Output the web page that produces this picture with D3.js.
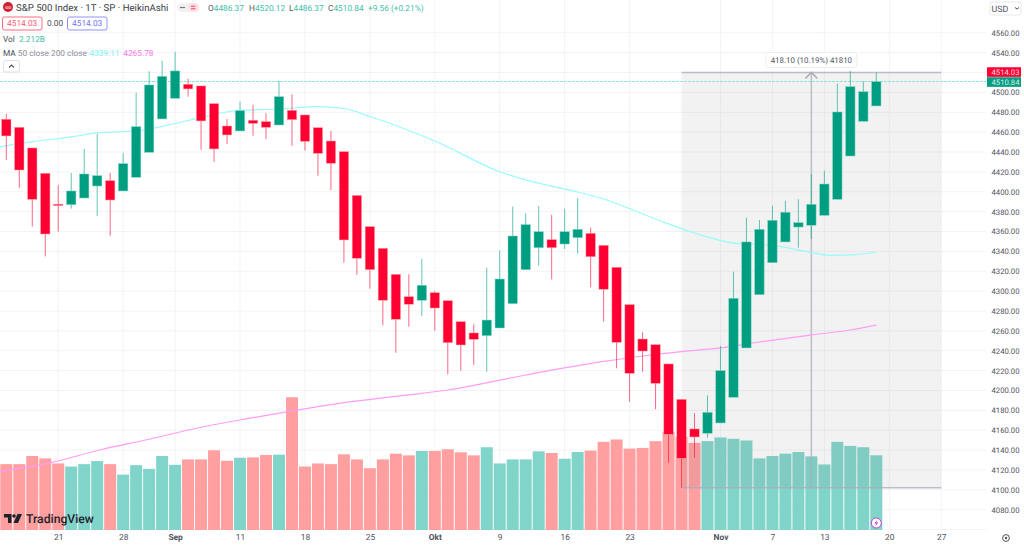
<!DOCTYPE html>
<html lang="de">

<head>
  <meta charset="UTF-8" />
  <title>S&amp;P 500 Index - HeikinAshi</title>
  <script src="https://d3js.org/d3.v7.min.js"></script>
  <style>
    body {
      margin: 0;
      background-color: #fff;
      overflow: hidden;
    }

    svg {
      display: block;
      font-family: Roboto, "Liberation Sans", sans-serif;
      text-rendering: geometricPrecision;
    }

    .grid line {
      stroke: #f3f3f5;
      stroke-width: 1px;
    }

    .axis path,
    .axis line {
      display: none;
    }

    .axis text {
      fill: #50535e;
      font-size: 7.7px;
      font-family: Roboto, "Liberation Sans", sans-serif;
    }

    .legend {
      font-size: 8.3px;
      fill: #50535e;
    }
  </style>
</head>

<body>
  <svg id="chart" width="1024" height="545"></svg>

  <script>
    // heikin ashi candles (index 0 = 15 Aug, 1T bars)
    const opens = [4473.0, 4464.9, 4444.1, 4418.6, 4387.5, 4387.0, 4393.7, 4405.8, 4411.2, 4400.8, 4414.6, 4439.7, 4473.3, 4494.1, 4508.2, 4506.5, 4488.7, 4466.2, 4461.2, 4472.0, 4470.6, 4467.2, 4482.0, 4477.3, 4464.5, 4451.1, 4440.4, 4396.3, 4364.9, 4343.1, 4316.9, 4294.4, 4290.8, 4298.4, 4290.4, 4269.3, 4257.9, 4255.2, 4262.9, 4287.4, 4321.6, 4343.7, 4351.8, 4347.4, 4353.8, 4358.2, 4346.1, 4324.0, 4286.4, 4251.8, 4246.1, 4226.7, 4191.1, 4161.3, 4156.9, 4167.3, 4193.2, 4242.8, 4296.4, 4328.6, 4349.5, 4364.5, 4366.3, 4376.3, 4392.4, 4436.0, 4470.9, 4486.37];
    const closes = [4456.2, 4421.9, 4392.4, 4357.5, 4386.1, 4400.8, 4417.9, 4416.2, 4391.7, 4428.3, 4465.5, 4507.5, 4516.2, 4521.6, 4503.5, 4471.3, 4443.1, 4457.2, 4481.6, 4468.9, 4464.9, 4495.7, 4472.6, 4450.8, 4438.7, 4428.7, 4351.5, 4333.1, 4321.6, 4290.8, 4271.7, 4286.8, 4305.9, 4283.0, 4248.1, 4245.8, 4251.5, 4270.9, 4312.2, 4355.5, 4366.9, 4359.8, 4343.7, 4359.8, 4362.2, 4334.6, 4301.9, 4248.5, 4217.3, 4239.7, 4207.2, 4155.9, 4131.8, 4153.2, 4178.0, 4219.9, 4292.8, 4349.5, 4362.2, 4371.3, 4379.4, 4368.9, 4387.4, 4407.8, 4480.3, 4505.8, 4500.7, 4510.84];
    const highs = [4478.3, 4464.9, 4444.1, 4418.6, 4406.8, 4418.9, 4443.1, 4458.2, 4418.9, 4439.3, 4499.7, 4521.3, 4531.9, 4541.0, 4513.8, 4506.5, 4488.7, 4473.3, 4490.7, 4487.4, 4479.0, 4511.5, 4498.1, 4477.3, 4464.5, 4461.2, 4440.4, 4396.3, 4364.9, 4343.1, 4316.9, 4316.9, 4332.4, 4300.1, 4290.4, 4269.3, 4266.6, 4323.6, 4341.1, 4385.0, 4378.4, 4385.7, 4376.9, 4383.0, 4393.4, 4363.9, 4346.1, 4324.0, 4286.4, 4258.6, 4246.1, 4226.7, 4191.1, 4177.1, 4195.2, 4244.8, 4319.6, 4373.9, 4371.6, 4386.0, 4391.0, 4392.4, 4417.9, 4421.2, 4508.8, 4521.6, 4511.2, 4520.12];
    const lows = [4432.0, 4403.8, 4364.9, 4335.0, 4359.8, 4383.0, 4393.7, 4375.6, 4355.8, 4400.8, 4414.6, 4439.7, 4473.3, 4494.1, 4495.7, 4442.1, 4430.3, 4448.1, 4461.2, 4456.4, 4453.1, 4467.2, 4446.4, 4441.4, 4416.2, 4401.8, 4328.6, 4316.3, 4302.5, 4265.6, 4238.0, 4264.2, 4275.0, 4260.2, 4216.3, 4219.9, 4225.7, 4218.9, 4262.9, 4287.4, 4321.6, 4325.6, 4311.9, 4342.4, 4337.7, 4303.9, 4269.3, 4222.3, 4188.7, 4218.9, 4181.1, 4127.3, 4101.9, 4132.4, 4152.5, 4167.3, 4193.2, 4242.8, 4296.4, 4328.6, 4349.5, 4343.7, 4352.5, 4376.3, 4392.4, 4436.0, 4470.9, 4486.37];

    // volume in billions
    const volumes = [1.95, 1.95, 2.19, 2.12, 1.97, 1.88, 1.95, 2.04, 1.95, 1.64, 1.92, 1.81, 2.19, 1.93, 2.09, 2.09, 2.36, 2.05, 2.14, 2.15, 2.22, 2.23, 3.93, 1.88, 1.97, 1.95, 2.24, 2.09, 1.83, 2.09, 2.26, 2.21, 2.34, 2.34, 2.39, 2.30, 2.21, 2.45, 1.97, 2.09, 2.09, 2.33, 2.28, 2.11, 2.31, 2.35, 2.61, 2.68, 2.41, 2.43, 2.63, 2.91, 2.76, 2.58, 2.63, 2.74, 2.70, 2.65, 2.12, 2.19, 2.26, 2.31, 2.18, 1.94, 2.61, 2.49, 2.45, 2.212];

    // moving averages, read at a few bars along each curve
    const ma50Bars = [-0.5, 2, 5, 7, 10, 12.5, 15, 17.5, 21, 24, 26, 28, 33, 38, 40, 44, 46, 50, 53, 56, 59, 62, 63.5, 65, 67];
    const ma50Values = [4445.1, 4450.4, 4455.2, 4459.2, 4461.2, 4467.2, 4474.8, 4481.3, 4483.3, 4485.6, 4483.8, 4475.8, 4451.1, 4420.2, 4411.9, 4399.8, 4392.7, 4372.6, 4358.5, 4348.4, 4346.0, 4338.9, 4335.9, 4336.4, 4339.11];
    const ma200Bars = [-0.5, 3.4, 7.2, 11, 15, 19, 22, 26, 31, 34, 40, 46, 49, 52, 55, 58, 62, 65, 67];
    const ma200Values = [4118.3, 4127.3, 4140.1, 4150.9, 4163.0, 4172.6, 4179.4, 4187.7, 4195.5, 4200.5, 4215.6, 4229.2, 4234.7, 4239.1, 4242.8, 4248.8, 4255.9, 4260.9, 4265.78];

    // axes
    const priceTicks = d3.range(4080, 4561, 20);
    const dateBars = [4, 9, 13, 18, 23, 28, 33, 38, 43, 48, 55, 59, 63, 68, 72];
    const dateLabels = ["21", "28", "Sep", "11", "18", "25", "Okt", "9", "16", "23", "Nov", "7", "13", "20", "27"];
    const monthLabels = ["Sep", "Okt", "Nov"];

    // measure tool
    const measureStartBar = 52;
    const measureEndBar = 72;
    const measureLow = 4102.02;
    const measureHigh = 4520.12;
    const measureText = "418.10 (10.19%) 41810";

    const lastClose = 4510.84;
    const lastPrice = 4514.03;

    const upColor = "#009e80";
    const downColor = "#ff0033";
    const upVolColor = "#80d4ca";
    const downVolColor = "#ff9fa0";
    const plotRight = 986;
    const plotBottom = 530;

    const svg = d3.select("#chart");

    const x = d3.scaleLinear().domain([0, 67]).range([6.3, 876.3]);
    const y = d3.scaleLinear().domain([4080, 4560]).range([509.7, 32.8]);
    const yVol = d3.scaleLinear().domain([0, 4]).range([plotBottom, plotBottom - 135.1]);

    const bars = d3.range(opens.length);
    const bodyW = 9.4;
    const volW = 12;

    // grid
    const grid = svg.append("g").attr("class", "grid");
    grid.selectAll("line.h")
      .data(priceTicks.concat([4060]))
      .join("line")
      .attr("class", "h")
      .attr("x1", 0)
      .attr("x2", plotRight)
      .attr("y1", (d) => y(d))
      .attr("y2", (d) => y(d));
    grid.selectAll("line.v")
      .data(dateBars)
      .join("line")
      .attr("class", "v")
      .attr("x1", (d) => x(d))
      .attr("x2", (d) => x(d))
      .attr("y1", 0)
      .attr("y2", plotBottom);

    // volume
    svg.append("g")
      .selectAll("rect")
      .data(bars)
      .join("rect")
      .attr("x", (i) => x(i) - volW / 2)
      .attr("width", volW)
      .attr("y", (i) => yVol(volumes[i]))
      .attr("height", (i) => plotBottom - yVol(volumes[i]))
      .attr("fill", (i) => (closes[i] >= opens[i] ? upVolColor : downVolColor));

    // measure tool, goes over the volume but under the candles
    const mx0 = x(measureStartBar);
    const mx1 = x(measureEndBar);
    const mxMid = (mx0 + mx1) / 2;
    const measure = svg.append("g");
    measure.append("rect")
      .attr("x", mx0)
      .attr("y", y(measureHigh))
      .attr("width", mx1 - mx0)
      .attr("height", y(measureLow) - y(measureHigh))
      .attr("fill", "#808080")
      .attr("fill-opacity", 0.1);
    measure.selectAll("line.edge")
      .data([measureHigh, measureLow])
      .join("line")
      .attr("class", "edge")
      .attr("x1", mx0)
      .attr("x2", mx1)
      .attr("y1", (d) => y(d))
      .attr("y2", (d) => y(d))
      .attr("stroke", "#a9acb8")
      .attr("stroke-opacity", 0.75)
      .attr("stroke-width", 1.5);
    measure.append("line")
      .attr("x1", mxMid)
      .attr("x2", mxMid)
      .attr("y1", y(measureLow))
      .attr("y2", y(measureHigh))
      .attr("stroke", "#a9acb8")
      .attr("stroke-opacity", 0.75)
      .attr("stroke-width", 1.5);
    measure.append("path")
      .attr("d", `M${mxMid - 6},${y(measureHigh) + 6}L${mxMid},${y(measureHigh)}L${mxMid + 6},${y(measureHigh) + 6}`)
      .attr("fill", "none")
      .attr("stroke", "#a9acb8")
      .attr("stroke-width", 1.5);

    // last price line
    svg.append("line")
      .attr("x1", 0)
      .attr("x2", plotRight)
      .attr("y1", y(lastClose))
      .attr("y2", y(lastClose))
      .attr("stroke", "#8fe6d8")
      .attr("stroke-width", 1)
      .attr("shape-rendering", "crispEdges")
      .attr("stroke-dasharray", "3 1");

    // moving averages
    const maLine = d3.line()
      .x((d) => x(d[0]))
      .y((d) => y(d[1]))
      .curve(d3.curveMonotoneX);
    svg.append("path")
      .attr("d", maLine(d3.zip(ma50Bars, ma50Values)))
      .attr("fill", "none")
      .attr("stroke", "#99fbfb")
      .attr("stroke-width", 1.2);
    svg.append("path")
      .attr("d", maLine(d3.zip(ma200Bars, ma200Values)))
      .attr("fill", "none")
      .attr("stroke", "#ff9cf5")
      .attr("stroke-width", 1.2);

    // candles
    const candles = svg.append("g");
    candles.selectAll("line")
      .data(bars)
      .join("line")
      .attr("x1", (i) => x(i))
      .attr("x2", (i) => x(i))
      .attr("y1", (i) => y(highs[i]))
      .attr("y2", (i) => y(lows[i]))
      .attr("stroke", (i) => (closes[i] >= opens[i] ? upColor : downColor))
      .attr("stroke-opacity", 0.6)
      .attr("stroke-width", 1);
    candles.selectAll("rect")
      .data(bars)
      .join("rect")
      .attr("x", (i) => x(i) - bodyW / 2)
      .attr("width", bodyW)
      .attr("y", (i) => y(Math.max(opens[i], closes[i])))
      .attr("height", (i) => Math.abs(y(opens[i]) - y(closes[i])))
      .attr("fill", (i) => (closes[i] >= opens[i] ? upColor : downColor))
      .attr("stroke", (i) => (closes[i] >= opens[i] ? upVolColor : downVolColor))
      .attr("stroke-width", 0.5);

    // measure label
    const labelW = 91;
    const labelG = svg.append("g");
    labelG.append("rect")
      .attr("x", mxMid - labelW / 2)
      .attr("y", 52.5)
      .attr("width", labelW)
      .attr("height", 15)
      .attr("rx", 2.5)
      .attr("fill", "#fff")
      .attr("stroke", "#eeeef1")
      .attr("stroke-width", 1);
    labelG.append("text")
      .attr("x", mxMid)
      .attr("y", 63)
      .attr("text-anchor", "middle")
      .attr("font-size", 7.9)
      .attr("fill", "#50535e")
      .text(measureText);

    // axes
    const priceAxis = d3.axisRight(y)
      .tickValues(priceTicks)
      .tickSize(0)
      .tickPadding(0)
      .tickFormat(d3.format(".2f"));
    svg.append("g")
      .attr("class", "axis")
      .attr("transform", "translate(991.5,0)")
      .call(priceAxis);

    const dateAxis = d3.axisBottom(x)
      .tickValues(dateBars)
      .tickSize(0)
      .tickPadding(0)
      .tickFormat((d, i) => dateLabels[i]);
    const dateG = svg.append("g")
      .attr("class", "axis")
      .attr("transform", "translate(0,534.5)")
      .call(dateAxis);
    dateG.selectAll("text")
      .attr("font-weight", (d, i) => (monthLabels.includes(dateLabels[i]) ? 700 : 400))
      .style("font-size", "8.4px");

    // price tags on the axis, the last price tag is pushed up to clear the close tag
    const tags = svg.append("g");
    [[lastPrice, downColor, -9.6], [lastClose, upColor, 0.4]].forEach((t) => {
      const cy = y(lastClose) + t[2];
      tags.append("rect")
        .attr("x", 987)
        .attr("y", cy - 4.8)
        .attr("width", 34)
        .attr("height", 9.6)
        .attr("fill", t[1]);
      tags.append("text")
        .attr("x", 991.5)
        .attr("y", cy + 2.9)
        .attr("font-size", 7.7)
        .attr("fill", "#fff")
        .attr("fill-opacity", 0.85)
        .text(t[0].toFixed(2));
    });

    // currency button
    svg.append("rect")
      .attr("x", 990)
      .attr("y", 2)
      .attr("width", 31)
      .attr("height", 13)
      .attr("rx", 2)
      .attr("fill", "#fff")
      .attr("stroke", "#e8e8ec");
    svg.append("text")
      .attr("x", 991.5)
      .attr("y", 11.5)
      .attr("font-size", 8.8)
      .attr("fill", "#50535e")
      .text("USD");
    svg.append("path")
      .attr("d", "M1015,7.5l2,1.5l2,-1.5")
      .attr("fill", "none")
      .attr("stroke", "#50535e");

    // gear
    svg.append("circle")
      .attr("cx", 1006)
      .attr("cy", 538)
      .attr("r", 3.4)
      .attr("fill", "none")
      .attr("stroke", "#50535e")
      .attr("stroke-width", 1);
    svg.append("circle")
      .attr("cx", 1006)
      .attr("cy", 538)
      .attr("r", 1.2)
      .attr("fill", "#50535e");

    // top legend
    const legend = svg.append("g").attr("class", "legend");
    legend.append("circle")
      .attr("cx", 8)
      .attr("cy", 7)
      .attr("r", 5)
      .attr("fill", "#d0202f");
    legend.append("text")
      .attr("x", 8)
      .attr("y", 8.5)
      .attr("text-anchor", "middle")
      .style("font-size", "4px")
      .style("fill", "#fff")
      .text("500");
    legend.append("text")
      .attr("x", 16)
      .attr("y", 11)
      .style("font-size", "9.65px")
      .style("fill", "#3a3d47")
      .text("S&P 500 Index · 1T · SP · HeikinAshi");

    legend.append("rect")
      .attr("x", 177)
      .attr("y", 3)
      .attr("width", 22)
      .attr("height", 9)
      .attr("rx", 4.5)
      .attr("fill", "#f0f1f3");
    legend.append("rect")
      .attr("x", 188)
      .attr("y", 3)
      .attr("width", 11)
      .attr("height", 9)
      .attr("rx", 4.5)
      .attr("fill", "#fde2e8");
    legend.append("path")
      .attr("d", "M180,7.5h5")
      .attr("stroke", "#787b86")
      .attr("stroke-width", 1.2);
    legend.append("path")
      .attr("d", "M191,6.2h4.5M191,8.8h4.5")
      .attr("stroke", "#f23a6a")
      .attr("stroke-width", 1);

    const ohlc = [["O", "4486.37", 208], ["H", "4520.12", 249], ["L", "4486.37", 289], ["C", "4510.84", 328]];
    ohlc.forEach((d) => {
      const t = legend.append("text").attr("x", d[2]).attr("y", 10.5);
      t.append("tspan").style("fill", "#50535e").text(d[0]);
      t.append("tspan").style("fill", "#45bfa8").text(d[1]);
    });
    legend.append("text")
      .attr("x", 368)
      .attr("y", 10.5)
      .style("fill", "#45bfa8")
      .text("+9.56 (+0.21%)");

    // price boxes
    [[2.5, "#ff6a80", "#ff5a75"], [67.5, "#8f93f5", "#7377ee"]].forEach((b) => {
      legend.append("rect")
        .attr("x", b[0])
        .attr("y", 17)
        .attr("width", 39.5)
        .attr("height", 13)
        .attr("rx", 2)
        .attr("fill", "#fff")
        .attr("stroke", b[1]);
      legend.append("text")
        .attr("x", b[0] + 19.7)
        .attr("y", 26.3)
        .attr("text-anchor", "middle")
        .style("fill", b[2])
        .text("4514.03");
    });
    legend.append("text").attr("x", 47).attr("y", 26.3).text("0.00");

    legend.append("text").attr("x", 3).attr("y", 42).text("Vol");
    legend.append("text").attr("x", 19).attr("y", 42).style("fill", "#45bfa8").text("2.212B");

    const maTitle = legend.append("text").attr("x", 3).attr("y", 55.5);
    maTitle.append("tspan").text("MA ");
    maTitle.append("tspan").style("fill", "#8c8f9a").text("50 close 200 close");
    legend.append("text").attr("x", 89.5).attr("y", 55.5).style("fill", "#7df3f3").text("4339.11");
    legend.append("text").attr("x", 123.3).attr("y", 55.5).style("fill", "#f878f0").text("4265.78");

    legend.append("rect")
      .attr("x", 3.5)
      .attr("y", 60.5)
      .attr("width", 16)
      .attr("height", 11.5)
      .attr("rx", 2)
      .attr("fill", "#fff")
      .attr("stroke", "#dfe0e4");
    legend.append("path")
      .attr("d", "M9,67.5l2.5,-2.5l2.5,2.5")
      .attr("fill", "none")
      .attr("stroke", "#50535e")
      .attr("stroke-width", 1.1);

    // watermark
    const logo = svg.append("g").attr("fill", "#1f222b");
    logo.append("path").attr("d", "M4,514h7.5v9h-3.5v-5.5h-4z");
    logo.append("circle").attr("cx", 14).attr("cy", 516).attr("r", 1.8);
    logo.append("path").attr("d", "M17.5,514h4.5l-4,9h-4.5z");
    logo.append("text")
      .attr("x", 26)
      .attr("y", 523)
      .attr("font-size", 12.2)
      .attr("font-weight", 500)
      .text("TradingView");

    // lightning marker on the last bar
    svg.append("circle")
      .attr("cx", x(67))
      .attr("cy", 523)
      .attr("r", 5)
      .attr("fill", "#fff")
      .attr("stroke", "#c03fd0")
      .attr("stroke-width", 1);
    svg.append("path")
      .attr("d", `M${x(67) + 1},519.8l-3,3.8h2l-1,2.8l3,-3.8h-2z`)
      .attr("fill", "#c03fd0");
  </script>
</body>

</html>
